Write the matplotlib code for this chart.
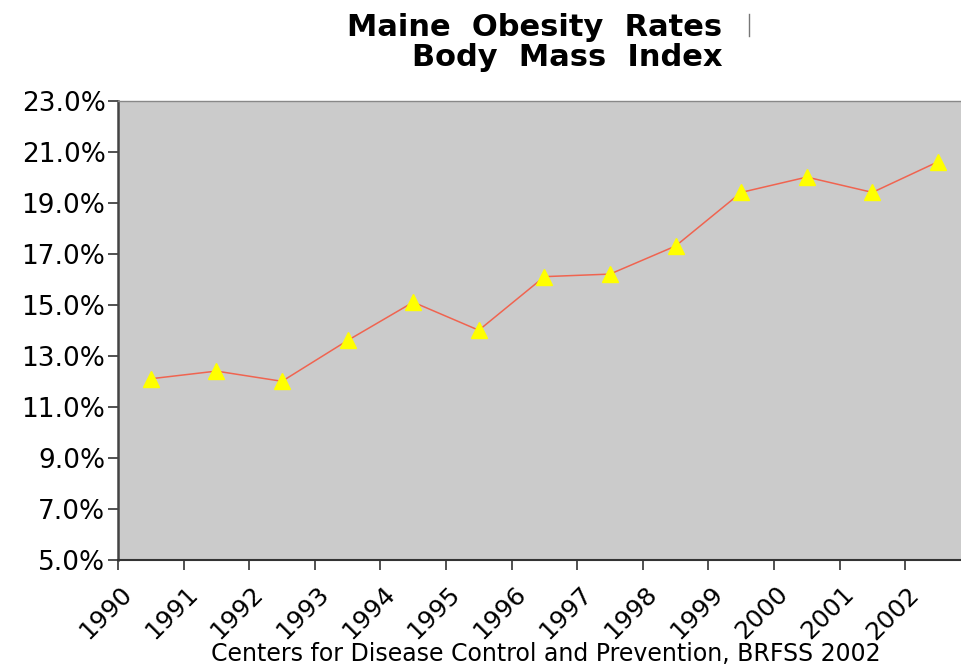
import numpy as np
import matplotlib
matplotlib.use('Agg')
import matplotlib.pyplot as plt
import matplotlib.transforms as mtransforms
from matplotlib.lines import Line2D

# data
years = ['1990', '1991', '1992', '1993', '1994', '1995', '1996',
         '1997', '1998', '1999', '2000', '2001', '2002']
rates = [12.1, 12.4, 12.0, 13.6, 15.1, 14.0, 16.1,
         16.2, 17.3, 19.4, 20.0, 19.4, 20.6]
yticks = [5, 7, 9, 11, 13, 15, 17, 19, 21, 23]

W, H = 961, 667
fig = plt.figure(figsize=(W / 100, H / 100), dpi=100)

# plot area runs off the right edge of the picture, like the original
left, right, top, bottom = 118, 118 + 13 * 65.6, 100.5, 560
ax = fig.add_axes([left / W, (H - bottom) / H, (right - left) / W, (bottom - top) / H])
ax.set_facecolor('#cbcbcb')

x = np.arange(len(years)) + 0.5
ax.plot(x, rates, color='#f06450', lw=1.1, marker='^', markersize=11,
        markerfacecolor='#ffff00', markeredgecolor='#ffff00', zorder=3)

ax.set_xlim(0, 13)
ax.set_ylim(5, 23)

ax.set_yticks(yticks)
ax.set_yticklabels(['%.1f%%' % v for v in yticks], fontsize=19)
ax.set_xticks(np.arange(len(years)))
ax.set_xticklabels([])

# rotated year labels, shifted right of their ticks as in the original
shift = mtransforms.ScaledTranslation(19 / 100, -22 / 100, fig.dpi_scale_trans)
for i, yr in enumerate(years):
    ax.text(i, 0, yr, transform=ax.get_xaxis_transform() + shift, fontsize=18,
            rotation=45, ha='right', va='top', clip_on=False)

ax.tick_params(axis='both', direction='out', length=7, width=1.2, color='#333333', pad=2)
ax.spines['left'].set_color('#444444')
ax.spines['left'].set_linewidth(1.8)
ax.spines['bottom'].set_color('#333333')
ax.spines['bottom'].set_linewidth(1.5)
ax.spines['top'].set_color('#888888')
ax.spines['top'].set_linewidth(1)
ax.spines['right'].set_visible(False)

# title
fig.text(722 / W, 1 - 36 / H, 'Maine  Obesity  Rates', fontsize=22, fontweight='bold',
         ha='right', va='baseline')
fig.text(722 / W, 1 - 66 / H, 'Body  Mass  Index', fontsize=22, fontweight='bold',
         ha='right', va='baseline')
fig.add_artist(Line2D([749 / W, 749 / W], [1 - 14 / H, 1 - 36 / H], color='#777777', lw=1))

# source
fig.text(546 / W, 1 - 661 / H, 'Centers for Disease Control and Prevention, BRFSS 2002',
         fontsize=17, ha='center', va='baseline')

plt.savefig('out.png', dpi=100)
